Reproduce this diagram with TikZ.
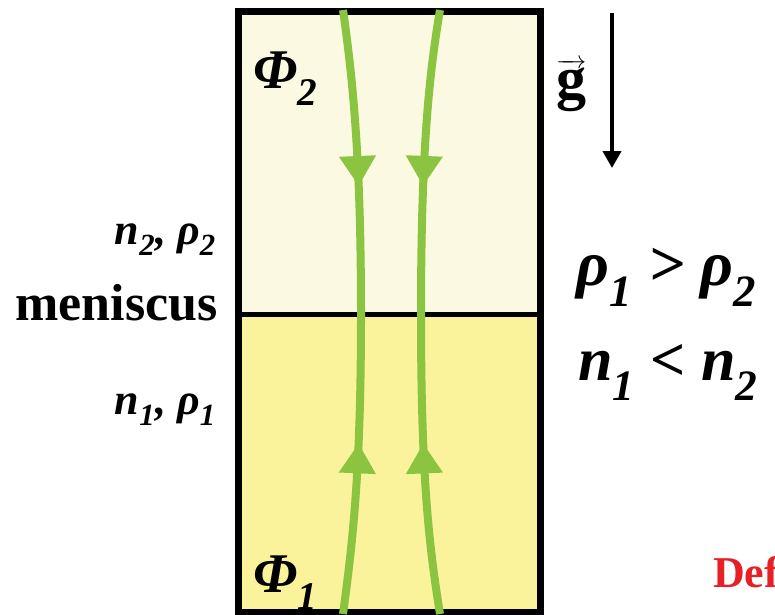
\documentclass[tikz,border=0pt]{standalone}
\usepackage{fontspec}
\setmainfont{Liberation Serif}
\usepackage{xcolor}
\usetikzlibrary{arrows.meta, decorations.markings}

\definecolor{fieldgreen}{RGB}{138,196,64}
\definecolor{liqtop}{RGB}{252,249,226}
\definecolor{liqbot}{RGB}{250,243,155}
\definecolor{defred}{RGB}{232,32,38}
\newcommand{\idx}[1]{\textsubscript{#1}}
\newcommand{\fsz}[1]{\fontsize{#1}{#1}\selectfont}

\begin{document}
\begin{tikzpicture}[x=1pt, y=-1pt,
    fieldline/.style={draw=fieldgreen, line width=8pt, postaction={decorate},
        decoration={markings, mark=at position #1 with
            {\arrow[fieldgreen]{Triangle[width=35pt,length=30pt]}}}},
    lbl/.style={inner sep=0pt, font=\bfseries\itshape}]
    \useasboundingbox (0,0) rectangle (775,614);

    % 1. Cuvette with the two liquids
    \coordinate (tl) at (238.5,11);
    \coordinate (br) at (540,612);
    \coordinate (ml) at (238.5,314);
    \coordinate (mr) at (540,314);
    \fill[liqtop] (tl) rectangle (mr);
    \fill[liqbot] (ml) rectangle (br);
    \draw[line width=5pt] (ml) -- (mr);
    \draw[line width=7pt] (tl) rectangle (br);

    % 2. Field lines
    \draw[fieldline=0.58] (343,10) .. controls (353,80) and (361,160) .. (361,314);
    \draw[fieldline=0.57] (343,614) .. controls (353,540) and (361,470) .. (361,314);
    \draw[fieldline=0.58] (440,10) .. controls (428,80) and (421,160) .. (421,314);
    \draw[fieldline=0.57] (440,614) .. controls (428,540) and (421,470) .. (421,314);

    % 3. Gravity
    \coordinate (gtop) at (612,13);
    \coordinate (gbot) at (612,168);
    \draw[line width=4pt, -{Triangle[width=18pt,length=17pt]}] (gtop) -- (gbot);
    \node[inner sep=0pt, anchor=base west] (gvec) at (556,98)
        {\fsz{60}$\overrightarrow{\textbf{g}}$};

    % 4. Labels
    \node[lbl, anchor=base west] (phitop) at (253,88) {\fsz{56}Φ\idx{2}};
    \node[lbl, anchor=base west] (phibot) at (253,592) {\fsz{56}Φ\idx{1}};
    \node[lbl, anchor=base east] (upper) at (216,244) {\fsz{44}n\idx{2}, ρ\idx{2}};
    \node[inner sep=0pt, anchor=base east, font=\bfseries] (men) at (218,320) {\fsz{52}meniscus};
    \node[lbl, anchor=base east] (lower) at (216,414) {\fsz{44}n\idx{1}, ρ\idx{1}};
    \node[lbl, anchor=base west] (rhos) at (576,285) {\fsz{64}ρ\idx{1} > ρ\idx{2}};
    \node[lbl, anchor=base west] (ns) at (578,380) {\fsz{62}n\idx{1} < n\idx{2}};
    \node[inner sep=0pt, anchor=base west, font=\bfseries, text=defred] (def) at (713,587) {\fsz{44}Def};
\end{tikzpicture}
\end{document}
